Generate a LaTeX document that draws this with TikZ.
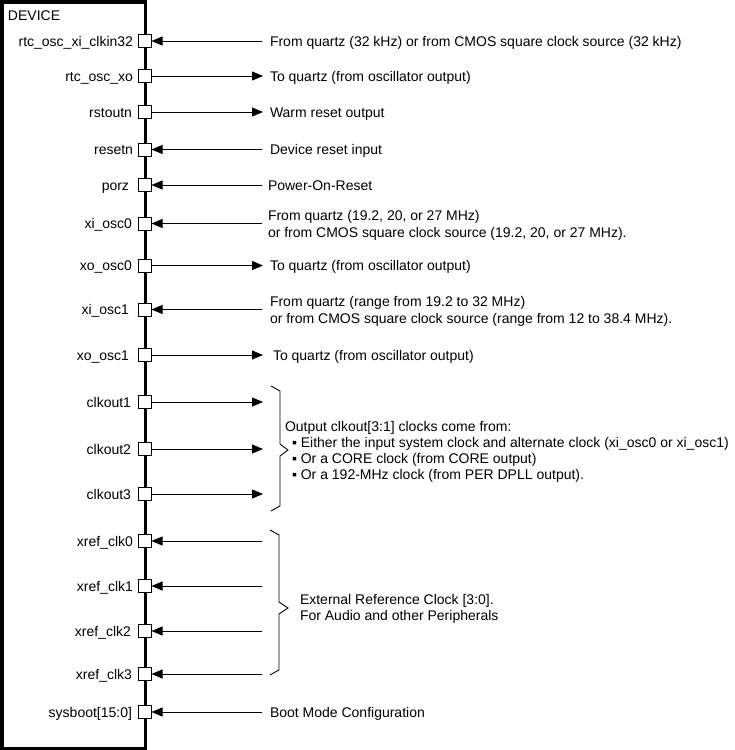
\documentclass[tikz,border=0pt]{standalone}
\usepackage{fontspec}
\setmainfont{Liberation Sans}
\usetikzlibrary{arrows.meta}
\begin{document}
\begin{tikzpicture}[x=1pt,y=-1pt,
  every node/.style={inner sep=0pt, outer sep=0pt, font=\fontsize{14}{17.5}\selectfont},
  pinbox/.style={draw, line width=1pt, fill=white, minimum size=13pt, inner sep=0pt},
  lbl/.style={anchor=base east},
  txt/.style={anchor=base west},
  mtxt/.style={anchor=north west, align=left},
  wire/.style={line width=0.9pt},
  tip/.style={-{Triangle[length=11pt,width=9pt]}},
  bracepath/.style={line width=0.9pt}]
\useasboundingbox (0,0) rectangle (735,750);
% device box
\draw[line width=3.5pt] (2,1.75) rectangle (145.5,748.25);
\node[txt] (dev) at (8,20) {DEVICE};
% input pins
\foreach \n/\lab/\y/\dx in {p1/rtc\_osc\_xi\_clkin32/41/0, p4/resetn/149.5/0, p5/porz/185/-4,
  p6/xi\_osc0/223.5/-1, p8/xi\_osc1/309.5/-4,
  x0/xref\_clk0/541/0, x1/xref\_clk1/586/0, x2/xref\_clk2/631/-2, x3/xref\_clk3/674/-1,
  sb/sysboot[15:0]/712/-1}{
  \node[pinbox] (\n) at (145,\y) {};
  \node[lbl] (\n l) at (133+\dx,\y+5) {\lab};
  \coordinate (\n e) at (262,\y);
  \draw[wire,tip] (\n e) -- (\n.east);
}
% output pins
\foreach \n/\lab/\y/\dx in {p2/rtc\_osc\_xo/76/0, p3/rstoutn/112/-1, p7/xo\_osc0/265.5/-1,
  p9/xo\_osc1/355/-4, c1/clkout1/402/-2, c2/clkout2/449/-2, c3/clkout3/494/-2}{
  \node[pinbox] (\n) at (145,\y) {};
  \node[lbl] (\n l) at (133+\dx,\y+5) {\lab};
  \coordinate (\n e) at (263,\y);
  \draw[wire,tip] (\n.east) -- (\n e);
}
% right side texts
\node[txt] (t1) at (270,46) {From quartz (32 kHz) or from CMOS square clock source (32 kHz)};
\node[txt] (t2) at (270,81) {To quartz (from oscillator output)};
\node[txt] (t3) at (270,117) {Warm reset output};
\node[txt] (t4) at (270,154.5) {Device reset input};
\node[txt] (t5) at (268,190) {Power-On-Reset};
\node[mtxt] (t6) at (268,210) {From quartz (19.2, 20, or 27 MHz)\\or from CMOS square clock source (19.2, 20, or 27 MHz).};
\node[txt] (t7) at (270,270.5) {To quartz (from oscillator output)};
\node[mtxt] (t8) at (270,296) {From quartz (range from 19.2 to 32 MHz)\\or from CMOS square clock source (range from 12 to 38.4 MHz).};
\node[txt] (t9) at (273,360) {To quartz (from oscillator output)};
\node[mtxt, font=\fontsize{14}{16}\selectfont] (tc) at (285,421) {Output clkout[3:1] clocks come from:\\
  \hspace*{7pt}▪ Either the input system clock and alternate clock (xi\_osc0 or xi\_osc1)\\
  \hspace*{7pt}▪ Or a CORE clock (from CORE output)\\
  \hspace*{7pt}▪ Or a 192-MHz clock (from PER DPLL output).};
\node[mtxt, font=\fontsize{14}{15.5}\selectfont] (tx) at (300,594.5) {External Reference Clock [3:0].\\For Audio and other Peripherals};
\node[txt] (tb) at (270,717) {Boot Mode Configuration};
% braces
\draw[bracepath] (271,386) -- (280,391) -- (280,444) -- (288,450) -- (280,456) -- (280,506) -- (271,511);
\draw[bracepath] (270,530) -- (279,535) -- (279,602) -- (288,608) -- (279,614) -- (279,670) -- (270,675);
\end{tikzpicture}
\end{document}
